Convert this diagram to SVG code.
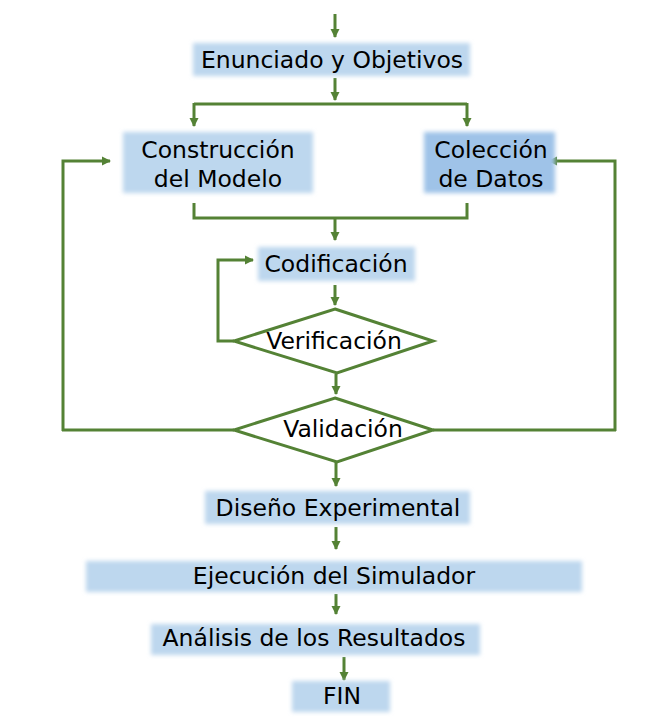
<svg xmlns="http://www.w3.org/2000/svg" width="653" height="718" viewBox="0 0 653 718">
<style>
.box{fill:#bdd7ee;filter:url(#soft)}
.dark{fill:#9fc3e8}
.t{font-family:"DejaVu Sans",sans-serif;font-size:23.5px;fill:#000;text-anchor:middle}
.c{fill:none;stroke:#548235;stroke-width:3}
.a{marker-end:url(#ah)}
.d{fill:#fff;stroke:#548235;stroke-width:3}
</style>
<defs>
<filter id="soft" x="-10%" y="-20%" width="120%" height="140%"><feGaussianBlur stdDeviation="2"/></filter>
<marker id="ah" markerWidth="12" markerHeight="12" refX="8" refY="5" orient="auto" markerUnits="userSpaceOnUse"><path d="M0,0.5 L9,5 L0,9.5 Z" fill="#548235"/></marker>
</defs>
<rect width="653" height="718" fill="#fff"/>
<g id="connectors">
<path class="c a" d="M335,14 V37"/>
<path class="c a" d="M335,78 V100"/>
<path class="c" d="M194,104 H467"/>
<path class="c a" d="M194,103 V126"/>
<path class="c a" d="M467,103 V126"/>
<path class="c" d="M194,203 V218 H467 V203"/>
<path class="c a" d="M335,218 V240"/>
<path class="c a" d="M335,285 V305"/>
<path class="c a" d="M234,341 H218 V260 H253"/>
<path class="c a" d="M336,374 V394"/>
<path class="c a" d="M63,431 V161 H110"/>
<path class="c a" d="M615,431 V161 H549"/>
<path class="c" d="M62,430 H234"/>
<path class="c" d="M433,430 H616"/>
<path class="c a" d="M336,462 V486"/>
<path class="c a" d="M336,527 V549"/>
<path class="c a" d="M336,594 V614"/>
<path class="c a" d="M344,657 V680"/>
</g>
<g id="enunciado"><rect class="box" x="193" y="43" width="277" height="33"/><text class="t" x="332" y="68">Enunciado y Objetivos</text></g>
<g id="construccion"><rect class="box" x="123" y="132" width="190" height="61"/><text class="t" x="218" y="158">Construcción</text><text class="t" x="218" y="187">del Modelo</text></g>
<g id="coleccion"><rect class="box dark" x="424" y="132" width="131" height="61"/><text class="t" x="491" y="158">Colección</text><text class="t" x="491" y="187">de Datos</text></g>
<g id="codificacion"><rect class="box" x="258" y="247" width="157" height="34"/><text class="t" x="336" y="272">Codificación</text></g>
<g id="verificacion"><path class="d" d="M335,309 L433,341 L337,373 L234,341 Z"/><text class="t" x="334" y="349">Verificación</text></g>
<g id="validacion"><path class="d" d="M335,398 L433,430 L337,462 L234,430 Z"/><text class="t" x="343" y="437">Validación</text></g>
<g id="diseno"><rect class="box" x="205" y="491" width="265" height="33"/><text class="t" x="338" y="516">Diseño Experimental</text></g>
<g id="ejecucion"><rect class="box" x="86" y="561" width="496" height="31"/><text class="t" x="334" y="584">Ejecución del Simulador</text></g>
<g id="analisis"><rect class="box" x="151" y="624" width="329" height="31"/><text class="t" x="314" y="646">Análisis de los Resultados</text></g>
<g id="fin"><rect class="box" x="292" y="681" width="98" height="31"/><text class="t" x="342" y="704">FIN</text></g>
</svg>
